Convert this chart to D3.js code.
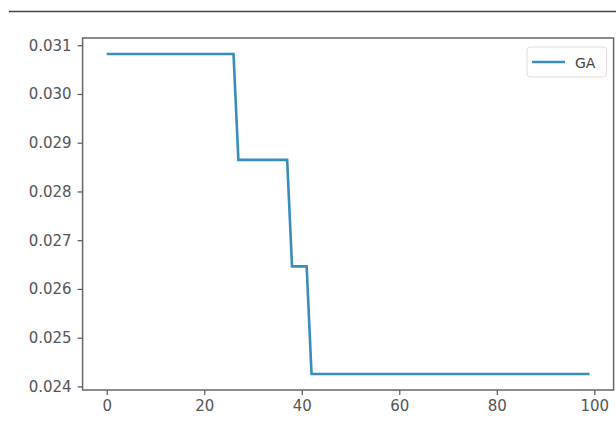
<!DOCTYPE html>
<html>
<head>
<meta charset="utf-8">
<script src="https://cdn.jsdelivr.net/npm/d3@7"></script>
<style>
  html, body { margin: 0; padding: 0; background: #fff; }
  svg { display: block; }
  .tick text { font-family: "DejaVu Sans", sans-serif; font-size: 15px; fill: #555; }
</style>
</head>
<body>
<svg id="chart" width="616" height="441"></svg>
<script>
// Data: GA fitness per iteration (step function)
const iterations = d3.range(0, 100);
const stepStarts = [0, 27, 38, 42];          // iteration where each level begins
const stepLevels = [0.03082, 0.028647, 0.026464, 0.024255];
const gaValues = iterations.map(i => {
  let v = stepLevels[0];
  for (let k = 0; k < stepStarts.length; k++) if (i >= stepStarts[k]) v = stepLevels[k];
  return v;
});
const xTicks = [0, 20, 40, 60, 80, 100];
const yTicks = [0.024, 0.025, 0.026, 0.027, 0.028, 0.029, 0.030, 0.031];
const seriesName = "GA";

const svg = d3.select("#chart");
const mLeft = 82.6, mRight = 613.6, mTop = 38, mBottom = 390;

// matplotlib-style 5% margins
const xMin = 0, xMax = 99, xPad = (xMax - xMin) * 0.05;
const yMin = d3.min(gaValues), yMax = d3.max(gaValues), yPad = (yMax - yMin) * 0.05;
const x = d3.scaleLinear().domain([xMin - xPad, xMax + xPad]).range([mLeft, mRight]);
const y = d3.scaleLinear().domain([yMin - yPad, yMax + yPad]).range([mBottom, mTop]);

// top separator line
svg.append("line").attr("x1", 9).attr("x2", 616).attr("y1", 11.5).attr("y2", 11.5)
  .attr("stroke", "#444").attr("stroke-width", 1.5);

// line
svg.append("path")
  .datum(iterations)
  .attr("fill", "none")
  .attr("stroke", "#3a8cbc")
  .attr("stroke-width", 2.6)
  .attr("stroke-linejoin", "miter")
  .attr("d", d3.line().x(i => x(i)).y(i => y(gaValues[i])));

// axes
const xAxis = svg.append("g").attr("transform", `translate(0,${mBottom})`)
  .call(d3.axisBottom(x).tickValues(xTicks).tickSize(5).tickPadding(5).tickFormat(d3.format("d")));
const yAxis = svg.append("g").attr("transform", `translate(${mLeft},0)`)
  .call(d3.axisLeft(y).tickValues(yTicks).tickSize(5).tickPadding(6).tickFormat(d3.format(".3f")));
[xAxis, yAxis].forEach(a => {
  a.select(".domain").remove();
  a.selectAll(".tick line").attr("stroke", "#555").attr("stroke-width", 1.2);
});

// frame
svg.append("rect").attr("x", mLeft).attr("y", mTop).attr("width", mRight - mLeft).attr("height", mBottom - mTop)
  .attr("fill", "none").attr("stroke", "#666").attr("stroke-width", 1.5);

// legend
const lg = svg.append("g");
lg.append("rect").attr("x", 527).attr("y", 47).attr("width", 79.5).attr("height", 30).attr("rx", 3)
  .attr("fill", "#fff").attr("stroke", "#ddd").attr("stroke-width", 1);
lg.append("line").attr("x1", 532).attr("x2", 565).attr("y1", 62).attr("y2", 62)
  .attr("stroke", "#3a8cbc").attr("stroke-width", 2.6);
lg.append("text").attr("x", 575).attr("y", 67.5).text(seriesName)
  .attr("font-family", "DejaVu Sans, sans-serif").attr("font-size", 14).attr("fill", "#444");
</script>
</body>
</html>
